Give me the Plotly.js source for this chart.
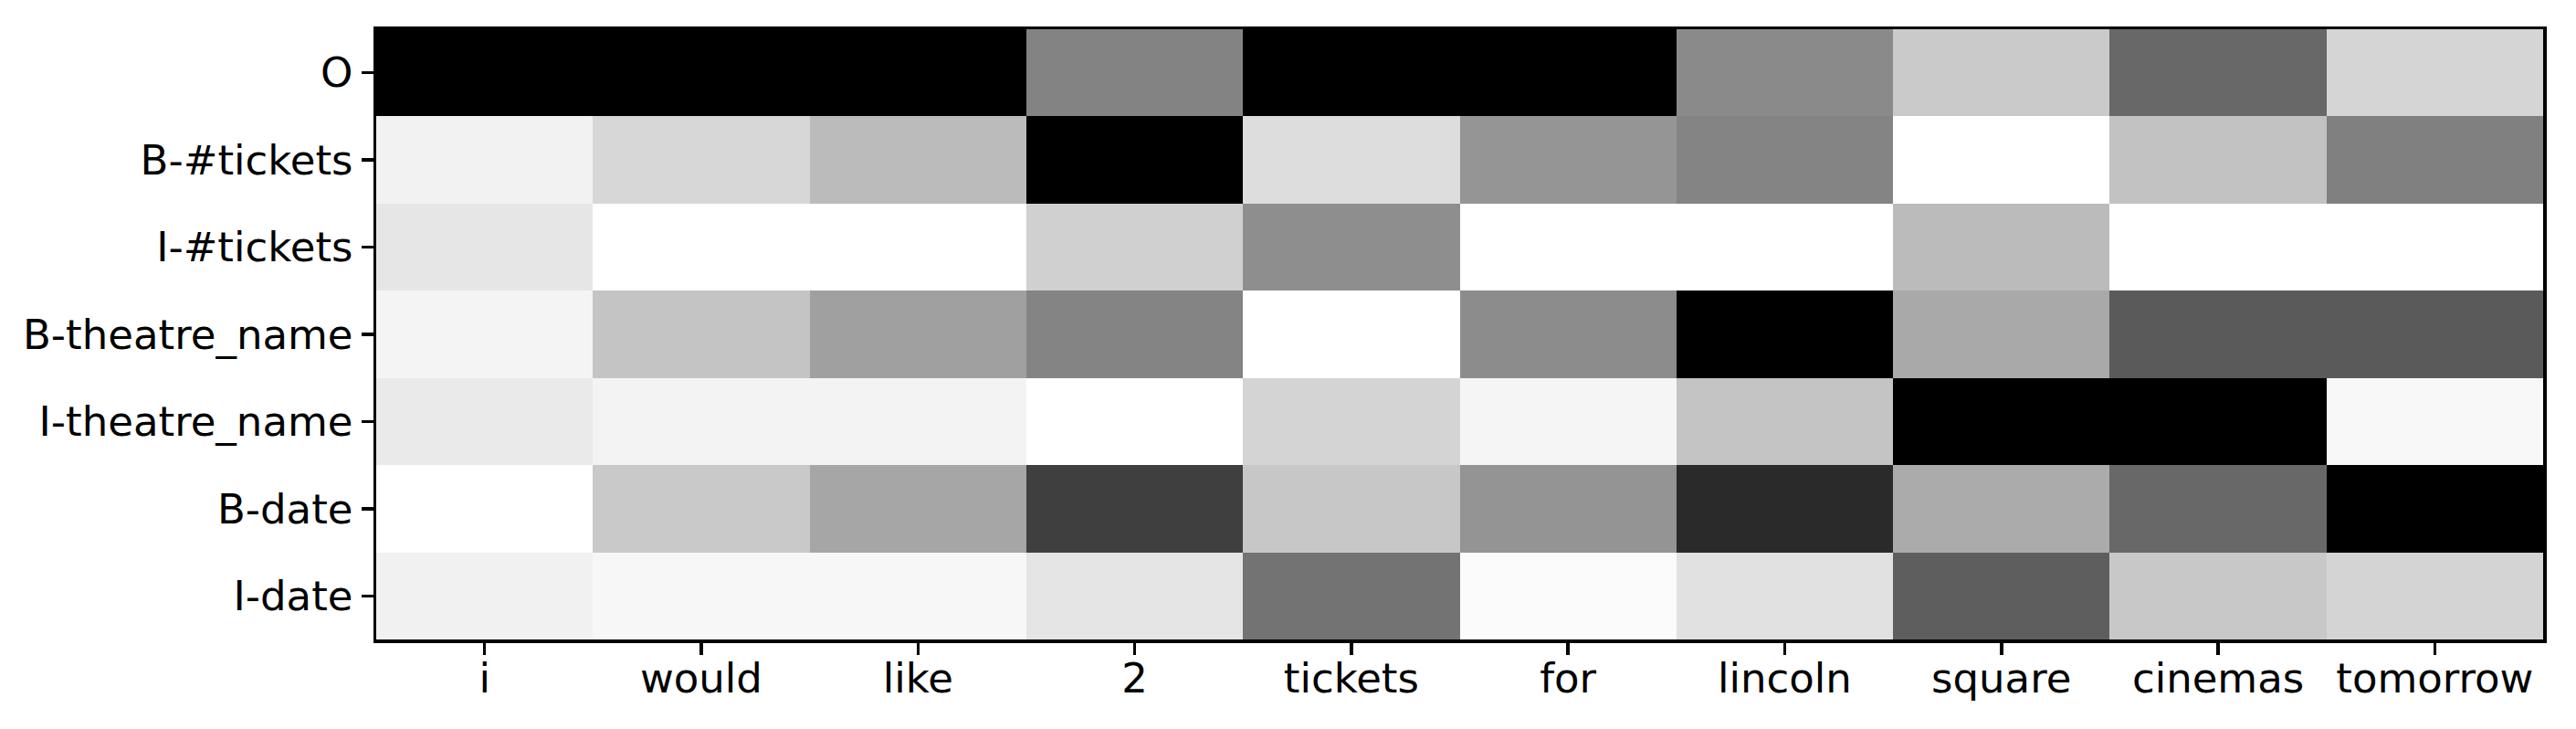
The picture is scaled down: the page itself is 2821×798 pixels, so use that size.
<!DOCTYPE html>
<html>
<head>
<meta charset="utf-8">
<script src="https://cdn.plot.ly/plotly-3.0.1.min.js"></script>
<style>
  html, body { margin: 0; padding: 0; background: #ffffff; }
  #chart { width: 2821px; height: 798px; }
</style>
</head>
<body>
<div id="chart"></div>
<script>
// Tokens (x axis) and slot labels (y axis)
const tokens = ["i", "would", "like", "2", "tickets", "for", "lincoln", "square", "cinemas", "tomorrow"];
const slots = ["O", "B-#tickets", "I-#tickets", "B-theatre_name", "I-theatre_name", "B-date", "I-date"];

// Attention weights per slot row (column-normalised, 0 = white, 1 = black)
const rowO             = [1.000, 1.000, 1.000, 0.486, 1.000, 1.000, 0.459, 0.208, 0.592, 0.165];
const rowBTickets      = [0.051, 0.157, 0.267, 1.000, 0.133, 0.416, 0.482, 0.000, 0.239, 0.498];
const rowITickets      = [0.098, 0.000, 0.000, 0.184, 0.443, 0.000, 0.000, 0.267, 0.000, 0.000];
const rowBTheatreName  = [0.043, 0.231, 0.373, 0.482, 0.000, 0.451, 1.000, 0.337, 0.647, 0.647];
const rowITheatreName  = [0.082, 0.047, 0.047, 0.000, 0.169, 0.039, 0.231, 1.000, 1.000, 0.027];
const rowBDate         = [0.000, 0.212, 0.349, 0.753, 0.220, 0.420, 0.835, 0.329, 0.592, 1.000];
const rowIDate         = [0.055, 0.031, 0.031, 0.102, 0.549, 0.016, 0.118, 0.631, 0.216, 0.169];

const z = [rowO, rowBTickets, rowITickets, rowBTheatreName, rowITheatreName, rowBDate, rowIDate];

const trace = {
  type: "heatmap",
  x: tokens,
  y: slots,
  z: z,
  zmin: 0,
  zmax: 1,
  colorscale: [[0, "#ffffff"], [1, "#000000"]],
  showscale: false,
  hoverinfo: "x+y+z"
};

const axisFont = { family: "DejaVu Sans, sans-serif", size: 45, color: "#000000" };

const layout = {
  width: 2821,
  height: 798,
  margin: { l: 412, r: 36, t: 32, b: 98, pad: 0 },
  paper_bgcolor: "#ffffff",
  plot_bgcolor: "#ffffff",
  font: axisFont,
  xaxis: {
    type: "category",
    tickfont: axisFont,
    ticks: "outside",
    ticklen: 13,
    tickwidth: 3.5,
    tickcolor: "#000000",
    ticklabelstandoff: -13,
    showline: true,
    linewidth: 3.5,
    linecolor: "#000000",
    mirror: true,
    showgrid: false,
    zeroline: false,
    fixedrange: true
  },
  yaxis: {
    type: "category",
    autorange: "reversed",
    tickfont: axisFont,
    ticks: "outside",
    ticklen: 13,
    tickwidth: 3.5,
    tickcolor: "#000000",
    showline: true,
    linewidth: 3.5,
    linecolor: "#000000",
    mirror: true,
    showgrid: false,
    zeroline: false,
    fixedrange: true
  }
};

Plotly.newPlot("chart", [trace], layout, { displayModeBar: false, staticPlot: true });
</script>
</body>
</html>
